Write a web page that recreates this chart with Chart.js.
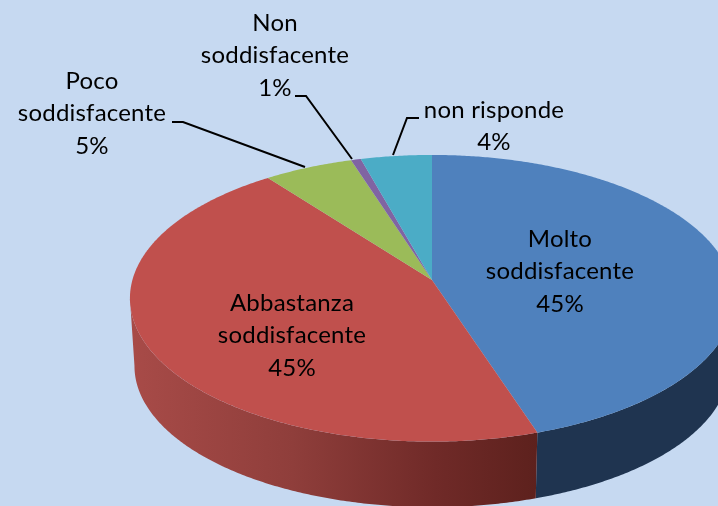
<!DOCTYPE html>
<html>
<head>
<meta charset="utf-8">
<style>html,body{margin:0;padding:0;background:#C6D9F1;overflow:hidden}canvas{display:block}</style>
<script src="https://cdn.jsdelivr.net/npm/chart.js@4"></script>
</head>
<body>
<canvas id="c" width="718" height="506"></canvas>
<script>
const categories = ["Molto soddisfacente", "Abbastanza soddisfacente", "Poco soddisfacente", "Non soddisfacente", "non risponde"];
const values = [45, 44.7, 5.4, 0.6, 4.3];
const sliceColors = ["#4F81BD", "#C0504D", "#9BBB59", "#8064A2", "#4BACC6"];

// where each label block sits: centre x, first line y, wrapped lines
const labelLayout = [
  {x: 560, y: 239, lines: ["Molto", "soddisfacente"]},
  {x: 292, y: 303, lines: ["Abbastanza", "soddisfacente"]},
  {x: 92,  y: 81,  lines: ["Poco", "soddisfacente"]},
  {x: 275, y: 23,  lines: ["Non", "soddisfacente"]},
  {x: 494, y: 110, lines: ["non risponde"]}
];
const leaderLines = [
  null, null,
  [[172,122],[183,122],[305,167]],
  [[295,96],[306,96],[352,159]],
  [[419,118],[407,118],[393,155]]
];

// perspective projection of the pie's disc onto the picture
const CX = 432, CY = 280, A = 299.6, B = 141, P = 0.1274, DEPTH = 68, BOTTOM_SCALE = 0.985;
function project(a, bottom) {
  const X = Math.sin(a), Y = Math.cos(a), w = 1 + P * Y;
  if (bottom) {
    return [CX + BOTTOM_SCALE * A * X / w, CY + DEPTH - B * BOTTOM_SCALE * Y / w];
  }
  return [CX + A * X / w, CY - B * Y / w];
}
const STEP = Math.PI / 360;
function arcAngles(el) {
  return [el.startAngle + Math.PI / 2, el.endAngle + Math.PI / 2];
}

const pie3d = {
  id: "pie3d",
  beforeDatasetDraw(chart, args) {
    const ctx = chart.ctx;
    const arcs = args.meta.data;
    // side wall: runs between the two silhouette points of the disc
    arcs.forEach((el, i) => {
      let [s, e] = arcAngles(el);
      s = Math.max(s, Math.PI * 0.5 + P);
      e = Math.min(e, Math.PI * 1.5 - P);
      if (e <= s) return;
      ctx.beginPath();
      for (let a = s; a < e; a += STEP) { const p = project(a); ctx.lineTo(p[0], p[1]); }
      let p = project(e); ctx.lineTo(p[0], p[1]);
      for (let a = e; a > s; a -= STEP) { const q = project(a, true); ctx.lineTo(q[0], q[1]); }
      p = project(s, true); ctx.lineTo(p[0], p[1]);
      ctx.closePath();
      if (i === 1) {
        const g = ctx.createLinearGradient(130, 0, 537, 0);
        g.addColorStop(0, "#A84B48");
        g.addColorStop(0.4, "#8F3E3B");
        g.addColorStop(0.75, "#702A28");
        g.addColorStop(1, "#5D211D");
        ctx.fillStyle = g;
      } else {
        ctx.fillStyle = "#1F3450";
      }
      ctx.fill();
    });
    // top face
    arcs.forEach((el, i) => {
      const [s, e] = arcAngles(el);
      ctx.beginPath();
      ctx.moveTo(CX, CY);
      for (let a = s; a < e; a += STEP) { const p = project(a); ctx.lineTo(p[0], p[1]); }
      const p = project(e); ctx.lineTo(p[0], p[1]);
      ctx.closePath();
      ctx.fillStyle = sliceColors[i];
      ctx.fill();
    });
    return false;
  },
  afterDraw(chart) {
    const ctx = chart.ctx;
    ctx.save();
    // leader lines
    ctx.strokeStyle = "#000";
    ctx.lineWidth = 2;
    ctx.lineJoin = "miter";
    leaderLines.forEach(pts => {
      if (!pts) return;
      ctx.beginPath();
      pts.forEach((p, i) => i ? ctx.lineTo(p[0], p[1]) : ctx.moveTo(p[0], p[1]));
      ctx.stroke();
    });
    // labels
    ctx.fillStyle = "#000";
    ctx.font = "24px Lato";
    ctx.letterSpacing = "0.2px";
    ctx.textAlign = "center";
    ctx.textBaseline = "middle";
    labelLayout.forEach((l, i) => {
      const rows = l.lines.concat([Math.round(values[i]) + "%"]);
      rows.forEach((t, k) => ctx.fillText(t, l.x, l.y + k * 32.7));
    });
    ctx.restore();
  }
};

new Chart(document.getElementById("c"), {
  type: "pie",
  data: {
    labels: categories,
    datasets: [{data: values, backgroundColor: sliceColors, borderWidth: 0}]
  },
  options: {
    responsive: false,
    animation: false,
    events: [],
    plugins: {legend: {display: false}, tooltip: {enabled: false}}
  },
  plugins: [pie3d]
});
</script>
</body>
</html>
